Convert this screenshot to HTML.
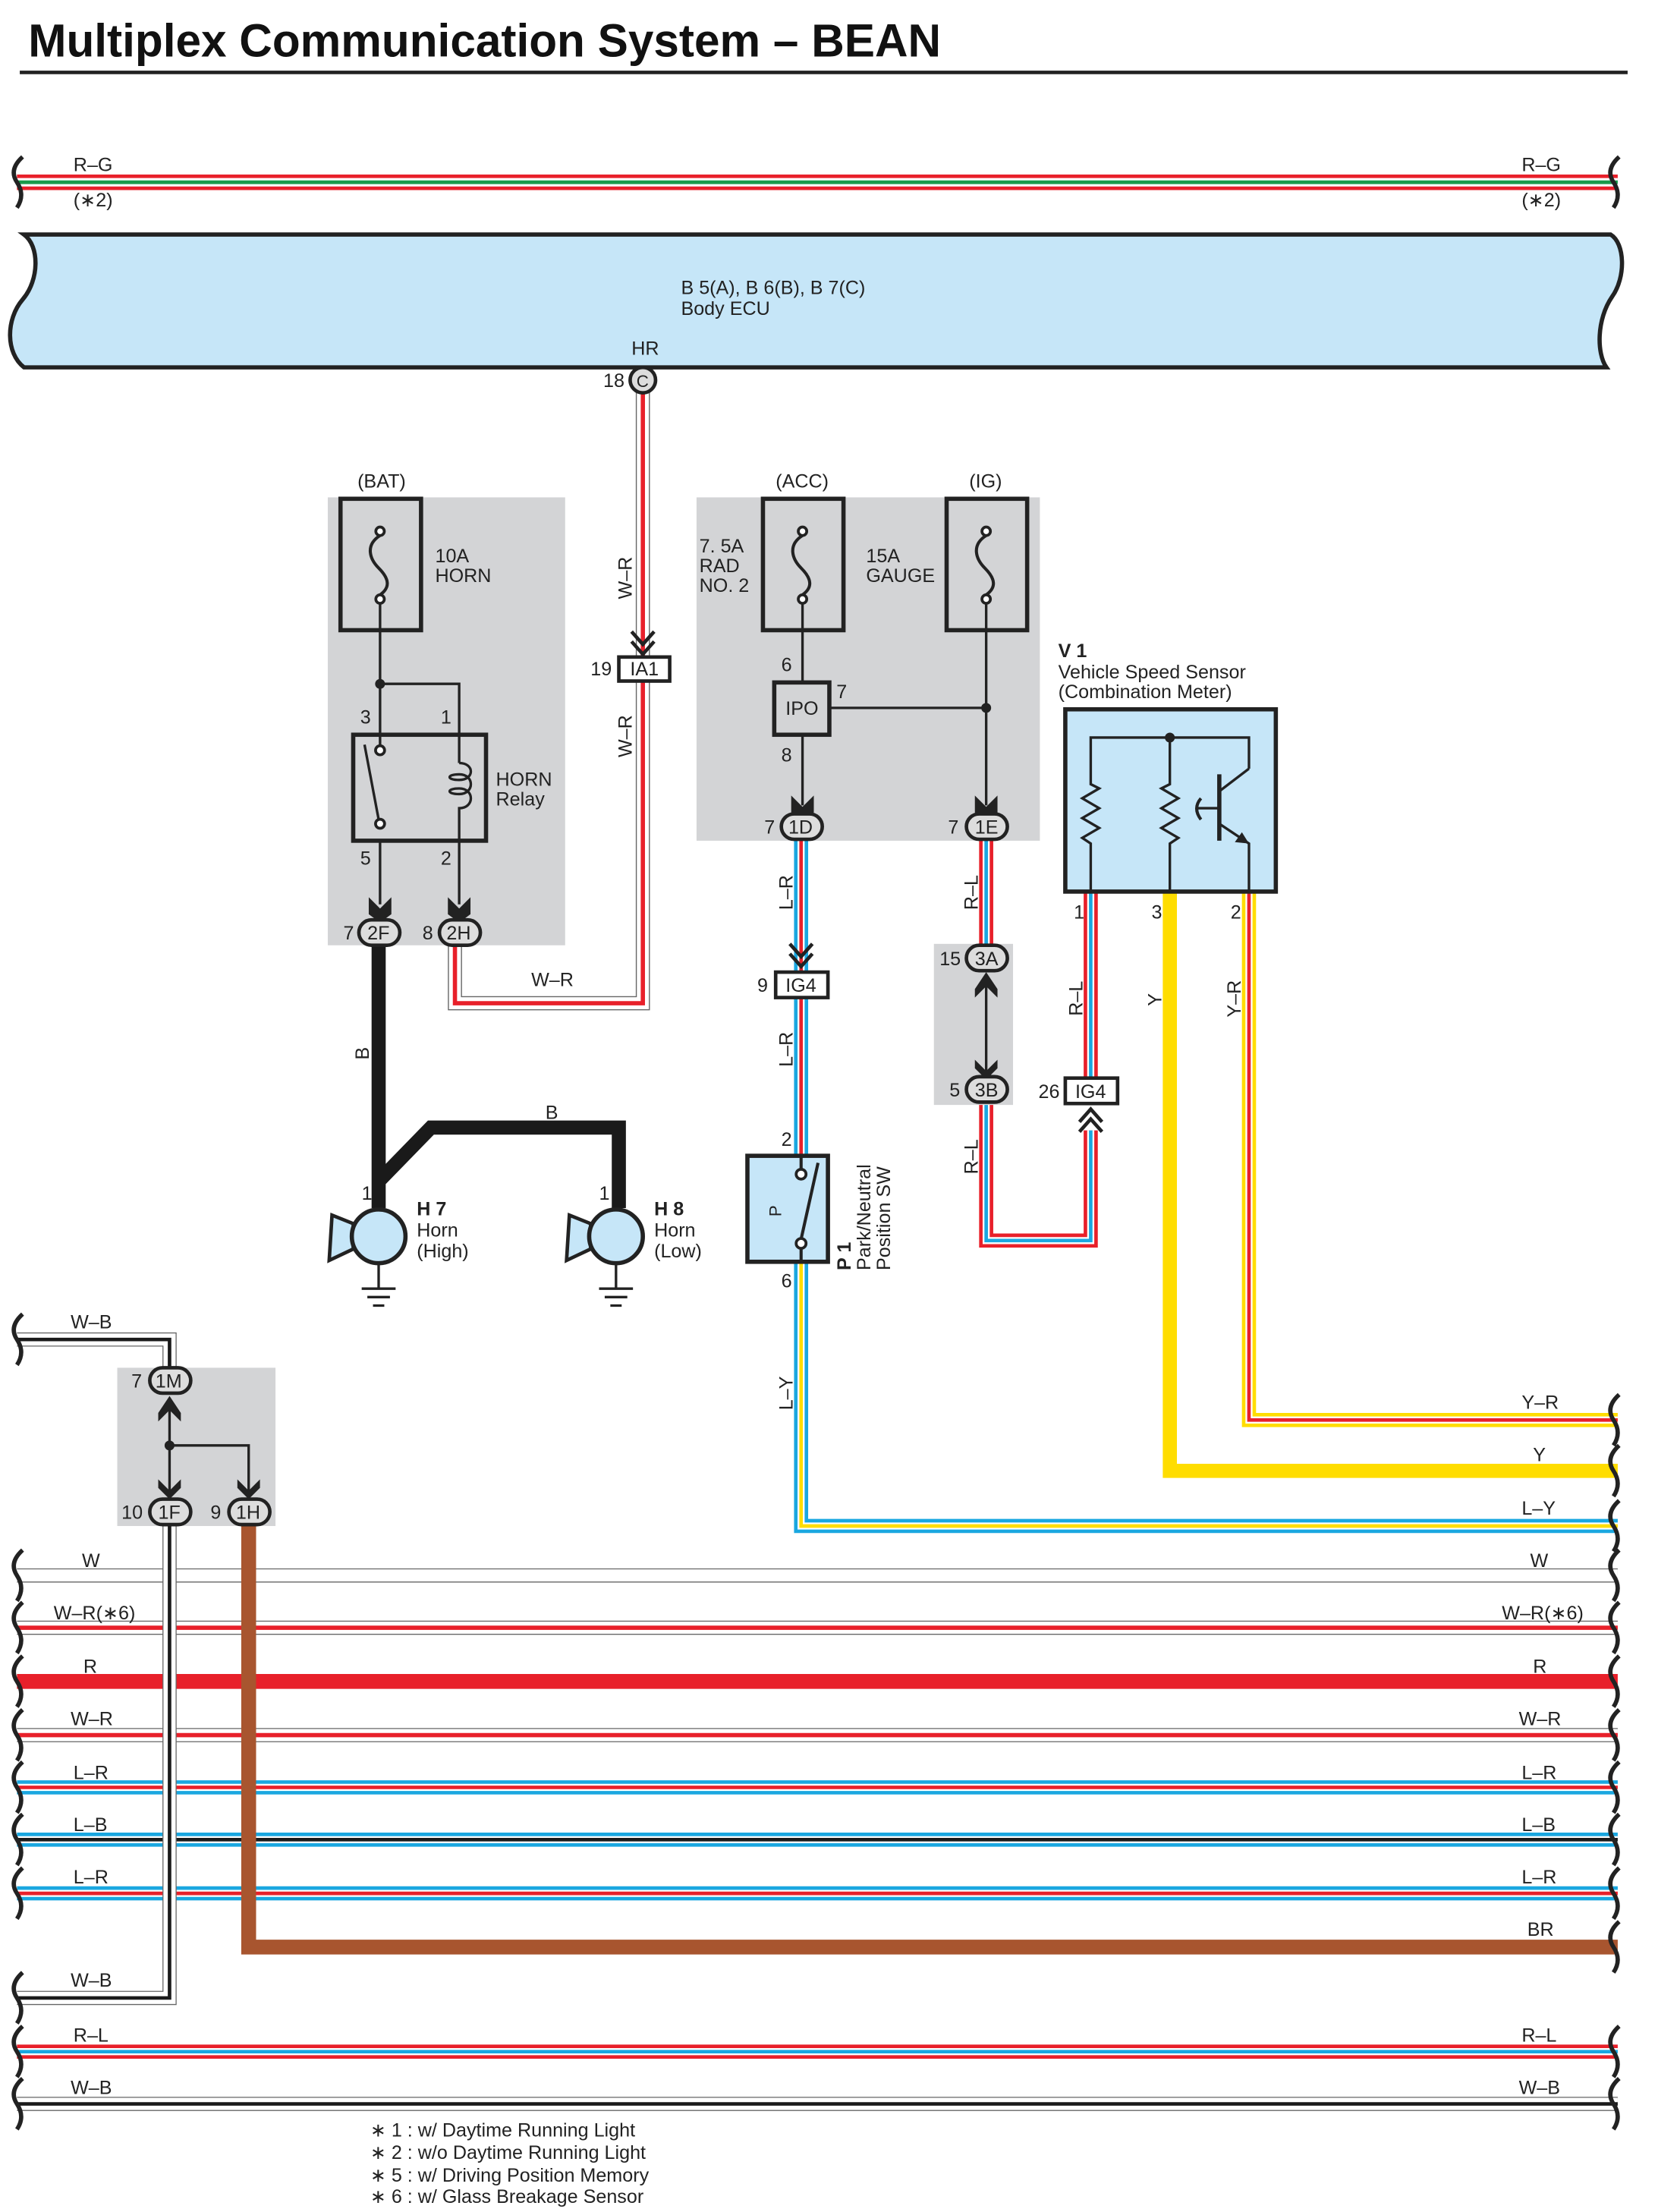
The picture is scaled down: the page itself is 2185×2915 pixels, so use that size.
<!DOCTYPE html>
<html><head><meta charset="utf-8"><style>
html,body{margin:0;padding:0;background:#fff}
svg{display:block}
text{font-family:"Liberation Sans",sans-serif;font-size:13.5px;fill:#222}
.k{fill:none;stroke:#222;stroke-width:3}
.t{fill:none;stroke:#222;stroke-width:1.8}
</style></head><body>
<svg width="2185" height="2915" viewBox="0 0 1173.5 1565.5" preserveAspectRatio="none" xmlns="http://www.w3.org/2000/svg">
<defs>
<path id="h1" d="M12 1115H1145"/>
<path id="h2" d="M12 1152H1145"/>
<path id="h4" d="M12 1228H1145"/>
<path id="h5" d="M12 1265H1145"/>
<path id="h6" d="M12 1302H1145"/>
<path id="h7" d="M12 1340H1145"/>
<path id="h9" d="M12 1452H1145"/>
<path id="h10" d="M12 1489H1145"/>
<path id="top" d="M12 129H1145"/>
<path id="wr1" d="M455 278V710H322V668"/>
<path id="wb1" d="M12 948H120V968"/>
<path id="wb2" d="M120 1078V1414H12"/>
<path id="lr1" d="M567 595V688"/>
<path id="lr2" d="M567 706V818"/>
<path id="ly" d="M567 893V1080H1145"/>
<path id="rl1" d="M698 595V670"/>
<path id="rl2" d="M698 780V878H772V800"/>
<path id="rl3" d="M772 763V632"/>
<path id="yr" d="M884 632V1005H1145"/>
</defs>

<text x="20" y="40" style="font-size:33px;font-weight:bold;fill:#111" textLength="646" lengthAdjust="spacingAndGlyphs">Multiplex Communication System – BEAN</text>
<rect x="14" y="50" width="1138" height="2.5" fill="#222"/>

<use href="#top" stroke="#e8202a" stroke-width="11" fill="none"/>
<use href="#top" stroke="#fff" stroke-width="6" fill="none"/>
<use href="#top" stroke="#1a9a4a" stroke-width="2.6" fill="none"/>
<text x="52" y="121">R–G</text><text x="52" y="146">(∗2)</text>
<text x="1077" y="121">R–G</text><text x="1077" y="146">(∗2)</text>
<path class="k" d="M16 111Q6 120 12 129Q18 138 12 147"/>
<path class="k" d="M1146 111Q1136 120 1142 129Q1148 138 1142 147"/>

<path d="M17 166H1140C1150 172 1151 196 1141 210C1130 226 1130 250 1137 260H17C4 250 4 226 16 212C28 198 28 174 17 166Z" fill="#c6e6f8" stroke="#222" stroke-width="3"/>
<text x="482" y="208">B 5(A), B 6(B), B 7(C)</text>
<text x="482" y="223">Body ECU</text>
<text x="447" y="251">HR</text>

<use href="#wr1" stroke="#666" stroke-width="10" fill="none"/>
<use href="#wr1" stroke="#fff" stroke-width="8.5" fill="none"/>
<use href="#wr1" stroke="#e8202a" stroke-width="3" fill="none"/>
<circle cx="455" cy="269" r="9" fill="#ddd" stroke="#222" stroke-width="2.5"/>
<text x="450.5" y="274" style="font-size:12px">C</text>
<text x="427" y="274">18</text>
<text transform="translate(447,424) rotate(-90)">W–R</text>
<text transform="translate(447,536) rotate(-90)">W–R</text>
<path class="k" d="M447 447L455 456L463 447M447 454L455 463L463 454" style="stroke-width:2.5"/>
<rect x="438" y="465" width="36" height="17" fill="#fff" stroke="#222" stroke-width="2.5"/>
<text x="446" y="478">IA1</text><text x="418" y="478">19</text>
<text x="376" y="698">W–R</text>

<rect x="232" y="352" width="168" height="317" fill="#d3d4d6"/>
<text x="253" y="345">(BAT)</text>
<rect x="241" y="353" width="57" height="93" fill="none" stroke="#222" stroke-width="3"/>
<circle cx="269" cy="376" r="3" fill="#fff" stroke="#222" stroke-width="2"/>
<circle cx="269" cy="424" r="3" fill="#fff" stroke="#222" stroke-width="2"/>
<path class="t" d="M269 379C258 386 262 396 268 402C276 410 276 416 269 421" style="stroke-width:2.2"/>
<text x="308" y="398">10A</text><text x="308" y="412">HORN</text>
<path class="t" d="M269 427V528M269 484H325V540M269 595V640M325 595V640"/>
<circle cx="269" cy="484" r="3.5" fill="#222"/>
<text x="255" y="512">3</text><text x="312" y="512">1</text>
<text x="255" y="612">5</text><text x="312" y="612">2</text>
<rect x="250" y="520" width="94" height="75" fill="none" stroke="#222" stroke-width="3"/>
<circle cx="269" cy="531" r="3.2" fill="#fff" stroke="#222" stroke-width="2"/>
<circle cx="269" cy="583" r="3.2" fill="#fff" stroke="#222" stroke-width="2"/>
<path class="t" d="M258 527L268 580"/>
<path class="t" d="M325 540C336 540 336 552 325 552C316 552 316 548 325 548C336 548 336 562 325 562C316 562 316 558 325 558C336 558 336 572 325 572V595"/>
<text x="351" y="556">HORN</text><text x="351" y="570">Relay</text>
<path d="M261 635L269 643L277 635V647L269 653L261 647Z" fill="#222"/>
<path d="M317 635L325 643L333 635V647L325 653L317 647Z" fill="#222"/>

<path d="M268 668V855M268 836L305 798H438V855" fill="none" stroke="#1a1a1a" stroke-width="10" stroke-linejoin="miter"/>
<text transform="translate(261,750) rotate(-90)">B</text>
<text x="386" y="792">B</text>

<rect x="254" y="651" width="29" height="18" rx="9" fill="#ddd" stroke="#222" stroke-width="2.5"/>
<text x="260" y="665">2F</text><text x="243" y="665">7</text>
<rect x="311" y="651" width="29" height="18" rx="9" fill="#ddd" stroke="#222" stroke-width="2.5"/>
<text x="316" y="665">2H</text><text x="299" y="665">8</text>

<g id="horn">
<path d="M250 866L235 860L233 892L250 884Z" fill="#c6e6f8" stroke="#222" stroke-width="2.5"/>
<circle cx="268" cy="875" r="19" fill="#c6e6f8" stroke="#222" stroke-width="3"/>
<path class="t" d="M268 894V912M256 912H280M260 918H276M264 924H272"/>
</g>
<use href="#horn" transform="translate(168,0)"/>
<text x="256" y="849">1</text><text x="424" y="849">1</text>
<text x="295" y="860" style="font-weight:bold">H 7</text><text x="295" y="875">Horn</text><text x="295" y="890">(High)</text>
<text x="463" y="860" style="font-weight:bold">H 8</text><text x="463" y="875">Horn</text><text x="463" y="890">(Low)</text>

<rect x="493" y="352" width="243" height="243" fill="#d3d4d6"/>
<text x="549" y="345">(ACC)</text><text x="686" y="345">(IG)</text>
<rect x="540" y="353" width="57" height="93" fill="none" stroke="#222" stroke-width="3"/>
<rect x="670" y="353" width="57" height="93" fill="none" stroke="#222" stroke-width="3"/>
<g>
<circle cx="568" cy="376" r="3" fill="#fff" stroke="#222" stroke-width="2"/>
<circle cx="568" cy="424" r="3" fill="#fff" stroke="#222" stroke-width="2"/>
<path class="t" d="M568 379C557 386 561 396 567 402C575 410 575 416 568 421" style="stroke-width:2.2"/>
<circle cx="698" cy="376" r="3" fill="#fff" stroke="#222" stroke-width="2"/>
<circle cx="698" cy="424" r="3" fill="#fff" stroke="#222" stroke-width="2"/>
<path class="t" d="M698 379C687 386 691 396 697 402C705 410 705 416 698 421" style="stroke-width:2.2"/>
</g>
<text x="495" y="391">7. 5A</text><text x="495" y="405">RAD</text><text x="495" y="419">NO. 2</text>
<text x="613" y="398">15A</text><text x="613" y="412">GAUGE</text>
<path class="t" d="M568 427V483M568 520V570M698 427V570M587 501H698"/>
<circle cx="698" cy="501" r="3.5" fill="#222"/>
<rect x="548" y="483" width="39" height="37" fill="#d3d4d6" stroke="#222" stroke-width="3"/>
<text x="556" y="506">IPO</text>
<text x="553" y="475">6</text><text x="592" y="494">7</text><text x="553" y="539">8</text>
<path d="M560 563L568 571L576 563V575L568 581L560 575Z" fill="#222"/>
<path d="M690 563L698 571L706 563V575L698 581L690 575Z" fill="#222"/>

<g fill="none">
<use href="#lr1" stroke="#1aa7e0" stroke-width="10"/><use href="#lr1" stroke="#fff" stroke-width="5"/><use href="#lr1" stroke="#e8202a" stroke-width="2.5"/>
<use href="#lr2" stroke="#1aa7e0" stroke-width="10"/><use href="#lr2" stroke="#fff" stroke-width="5"/><use href="#lr2" stroke="#e8202a" stroke-width="2.5"/>
<use href="#ly" stroke="#1aa7e0" stroke-width="10"/><use href="#ly" stroke="#fff" stroke-width="5"/><use href="#ly" stroke="#ffdd00" stroke-width="2.5"/>
<use href="#rl1" stroke="#e8202a" stroke-width="10"/><use href="#rl1" stroke="#fff" stroke-width="5"/><use href="#rl1" stroke="#1aa7e0" stroke-width="2.5"/>
<use href="#rl2" stroke="#e8202a" stroke-width="10"/><use href="#rl2" stroke="#fff" stroke-width="5"/><use href="#rl2" stroke="#1aa7e0" stroke-width="2.5"/>
<use href="#rl3" stroke="#e8202a" stroke-width="10"/><use href="#rl3" stroke="#fff" stroke-width="5"/><use href="#rl3" stroke="#1aa7e0" stroke-width="2.5"/>
<path d="M828 632V1041H1145" stroke="#ffdd00" stroke-width="10"/>
<use href="#yr" stroke="#ffdd00" stroke-width="10"/><use href="#yr" stroke="#fff" stroke-width="5"/><use href="#yr" stroke="#e8202a" stroke-width="2.5"/>
</g>
<rect x="553" y="576" width="29" height="18" rx="9" fill="#ddd" stroke="#222" stroke-width="2.5"/>
<text x="558" y="590">1D</text><text x="541" y="590">7</text>
<rect x="684" y="576" width="29" height="18" rx="9" fill="#ddd" stroke="#222" stroke-width="2.5"/>
<text x="690" y="590">1E</text><text x="671" y="590">7</text>
<text transform="translate(561,644) rotate(-90)">L–R</text>
<text transform="translate(561,755) rotate(-90)">L–R</text>
<path class="k" d="M559 668L567 677L575 668M559 675L567 684L575 675" style="stroke-width:2.5"/>
<rect x="549" y="688" width="37" height="18" fill="#fff" stroke="#222" stroke-width="2.5"/>
<text x="556" y="702">IG4</text><text x="536" y="702">9</text>
<text x="553" y="811">2</text>

<rect x="529" y="818" width="57" height="75" fill="#c6e6f8" stroke="#222" stroke-width="3"/>
<circle cx="567" cy="831" r="3.5" fill="#fff" stroke="#222" stroke-width="2"/>
<circle cx="567" cy="880" r="3.5" fill="#fff" stroke="#222" stroke-width="2"/>
<path class="t" d="M567 818V828M567 883V893M567 877L579 823" style="stroke-width:2.2"/>
<text transform="translate(553,861) rotate(-90)" style="font-size:12px">P</text>
<text x="553" y="911">6</text>
<text transform="translate(602,899) rotate(-90)" style="font-weight:bold">P 1</text>
<text transform="translate(616,899) rotate(-90)">Park/Neutral</text>
<text transform="translate(630,899) rotate(-90)">Position SW</text>
<text transform="translate(561,998) rotate(-90)">L–Y</text>

<rect x="661" y="668" width="56" height="114" fill="#d3d4d6"/>
<path class="t" d="M698 690V760"/>
<path d="M690 700L698 688L706 700V706L698 698L690 706Z" fill="#222"/>
<path d="M690 750L698 758L706 750V756L698 764L690 756Z" fill="#222"/>
<rect x="684" y="669" width="29" height="18" rx="9" fill="#ddd" stroke="#222" stroke-width="2.5"/>
<text x="690" y="683">3A</text><text x="665" y="683">15</text>
<rect x="684" y="762" width="29" height="18" rx="9" fill="#ddd" stroke="#222" stroke-width="2.5"/>
<text x="690" y="776">3B</text><text x="672" y="776">5</text>
<text transform="translate(692,644) rotate(-90)">R–L</text>
<text transform="translate(692,831) rotate(-90)">R–L</text>
<rect x="754" y="763" width="37" height="18" fill="#fff" stroke="#222" stroke-width="2.5"/>
<text x="761" y="777">IG4</text><text x="735" y="777">26</text>
<path class="k" d="M764 794L772 785L780 794M764 801L772 792L780 801" style="stroke-width:2.5"/>
<text transform="translate(766,719) rotate(-90)">R–L</text>
<text transform="translate(822,712) rotate(-90)">Y</text>
<text transform="translate(878,720) rotate(-90)">Y–R</text>
<text x="760" y="650">1</text><text x="815" y="650">3</text><text x="871" y="650">2</text>

<text x="749" y="465" style="font-weight:bold">V 1</text>
<text x="749" y="480">Vehicle Speed Sensor</text>
<text x="749" y="494">(Combination Meter)</text>
<rect x="754" y="502" width="149" height="129" fill="#c6e6f8" stroke="#222" stroke-width="3"/>
<path class="t" d="M772 632V597L766 593L778 586L766 579L778 572L766 565L778 558L772 555V522H884V544M828 522V555L822 558L834 565L822 572L834 579L822 586L834 593L828 597V632M884 544L863 560M863 583L884 597V632M848 572H863"/>
<path class="k" d="M863 548V595" style="stroke-width:3"/>
<path class="t" d="M850 565Q844 572 850 580" style="stroke-width:2.2"/>
<path d="M884 597L874 596L879 589Z" fill="#222"/>
<circle cx="828" cy="522" r="3.5" fill="#222"/>

<text x="1077" y="997">Y–R</text><text x="1085" y="1034">Y</text><text x="1077" y="1072">L–Y</text>

<g fill="none">
<use href="#h1" stroke="#666" stroke-width="10"/><use href="#h1" stroke="#fff" stroke-width="8.6"/>
<use href="#h2" stroke="#666" stroke-width="10"/><use href="#h2" stroke="#fff" stroke-width="8.6"/><use href="#h2" stroke="#e8202a" stroke-width="3"/>
<path d="M12 1190H1145" stroke="#e8202a" stroke-width="10.5"/>
<use href="#h4" stroke="#666" stroke-width="10"/><use href="#h4" stroke="#fff" stroke-width="8.6"/><use href="#h4" stroke="#e8202a" stroke-width="3"/>
<use href="#h5" stroke="#1aa7e0" stroke-width="10"/><use href="#h5" stroke="#fff" stroke-width="5"/><use href="#h5" stroke="#e8202a" stroke-width="2.5"/>
<use href="#h6" stroke="#1aa7e0" stroke-width="10"/><use href="#h6" stroke="#fff" stroke-width="5"/><use href="#h6" stroke="#1a1a1a" stroke-width="2.5"/>
<use href="#h7" stroke="#1aa7e0" stroke-width="10"/><use href="#h7" stroke="#fff" stroke-width="5"/><use href="#h7" stroke="#e8202a" stroke-width="2.5"/>
<use href="#h9" stroke="#e8202a" stroke-width="10"/><use href="#h9" stroke="#fff" stroke-width="5"/><use href="#h9" stroke="#1aa7e0" stroke-width="2.5"/>
<use href="#h10" stroke="#666" stroke-width="10"/><use href="#h10" stroke="#fff" stroke-width="8.6"/><use href="#h10" stroke="#1a1a1a" stroke-width="2.5"/>
<use href="#wb1" stroke="#666" stroke-width="10"/><use href="#wb1" stroke="#fff" stroke-width="8.6"/><use href="#wb1" stroke="#1a1a1a" stroke-width="2.5"/>
<use href="#wb2" stroke="#666" stroke-width="10"/><use href="#wb2" stroke="#fff" stroke-width="8.6"/><use href="#wb2" stroke="#1a1a1a" stroke-width="2.5"/>
<path d="M176 1078V1378H1145" stroke="#a8552f" stroke-width="10.5"/>
</g>

<rect x="83" y="968" width="112" height="112" fill="#d3d4d6"/>
<path class="t" d="M120 995V1058M120 1023H176V1058"/>
<circle cx="120" cy="1023" r="3.5" fill="#222"/>
<path d="M112 1000L120 988L128 1000V1006L120 998L112 1006Z" fill="#222"/>
<path d="M112 1047L120 1055L128 1047V1053L120 1061L112 1053Z" fill="#222"/>
<path d="M168 1047L176 1055L184 1047V1053L176 1061L168 1053Z" fill="#222"/>
<rect x="106" y="968" width="29" height="18" rx="9" fill="#ddd" stroke="#222" stroke-width="2.5"/>
<text x="110" y="982">1M</text><text x="93" y="982">7</text>
<rect x="106" y="1061" width="29" height="18" rx="9" fill="#ddd" stroke="#222" stroke-width="2.5"/>
<text x="112" y="1075">1F</text><text x="86" y="1075">10</text>
<rect x="162" y="1061" width="29" height="18" rx="9" fill="#ddd" stroke="#222" stroke-width="2.5"/>
<text x="167" y="1075">1H</text><text x="149" y="1075">9</text>

<text x="50" y="940">W–B</text>
<text x="58" y="1109">W</text><text x="1083" y="1109">W</text>
<text x="38" y="1146">W–R(∗6)</text><text x="1063" y="1146">W–R(∗6)</text>
<text x="59" y="1184">R</text><text x="1085" y="1184">R</text>
<text x="50" y="1221">W–R</text><text x="1075" y="1221">W–R</text>
<text x="52" y="1259">L–R</text><text x="1077" y="1259">L–R</text>
<text x="52" y="1296">L–B</text><text x="1077" y="1296">L–B</text>
<text x="52" y="1333">L–R</text><text x="1077" y="1333">L–R</text>
<text x="1081" y="1370">BR</text>
<text x="50" y="1406">W–B</text>
<text x="52" y="1445">R–L</text><text x="1077" y="1445">R–L</text>
<text x="50" y="1482">W–B</text><text x="1075" y="1482">W–B</text>

<g class="k">
<path d="M16 930Q6 939 12 948Q18 957 12 966"/>
<path d="M16 1097Q6 1106 12 1115Q18 1124 12 1133M16 1134Q6 1143 12 1152Q18 1161 12 1170M16 1172Q6 1181 12 1190Q18 1199 12 1208M16 1210Q6 1219 12 1228Q18 1237 12 1246M16 1247Q6 1256 12 1265Q18 1274 12 1283M16 1284Q6 1293 12 1302Q18 1311 12 1320M16 1322Q6 1331 12 1340Q18 1349 12 1358M16 1396Q6 1405 12 1414Q18 1423 12 1432M16 1434Q6 1443 12 1452Q18 1461 12 1470M16 1471Q6 1480 12 1489Q18 1498 12 1507"/>
<path d="M1146 987Q1136 996 1142 1005Q1148 1014 1142 1023M1146 1023Q1136 1032 1142 1041Q1148 1050 1142 1059M1146 1062Q1136 1071 1142 1080Q1148 1089 1142 1098"/>
<path d="M1146 1097Q1136 1106 1142 1115Q1148 1124 1142 1133M1146 1134Q1136 1143 1142 1152Q1148 1161 1142 1170M1146 1172Q1136 1181 1142 1190Q1148 1199 1142 1208M1146 1210Q1136 1219 1142 1228Q1148 1237 1142 1246M1146 1247Q1136 1256 1142 1265Q1148 1274 1142 1283M1146 1284Q1136 1293 1142 1302Q1148 1311 1142 1320M1146 1322Q1136 1331 1142 1340Q1148 1349 1142 1358M1146 1360Q1136 1369 1142 1378Q1148 1387 1142 1396M1146 1434Q1136 1443 1142 1452Q1148 1461 1142 1470M1146 1471Q1136 1480 1142 1489Q1148 1498 1142 1507"/>
</g>

<text x="262" y="1512">∗ 1 : w/ Daytime Running Light</text>
<text x="262" y="1528">∗ 2 : w/o Daytime Running Light</text>
<text x="262" y="1544">∗ 5 : w/ Driving Position Memory</text>
<text x="262" y="1559">∗ 6 : w/ Glass Breakage Sensor</text>
</svg>
</body></html>
